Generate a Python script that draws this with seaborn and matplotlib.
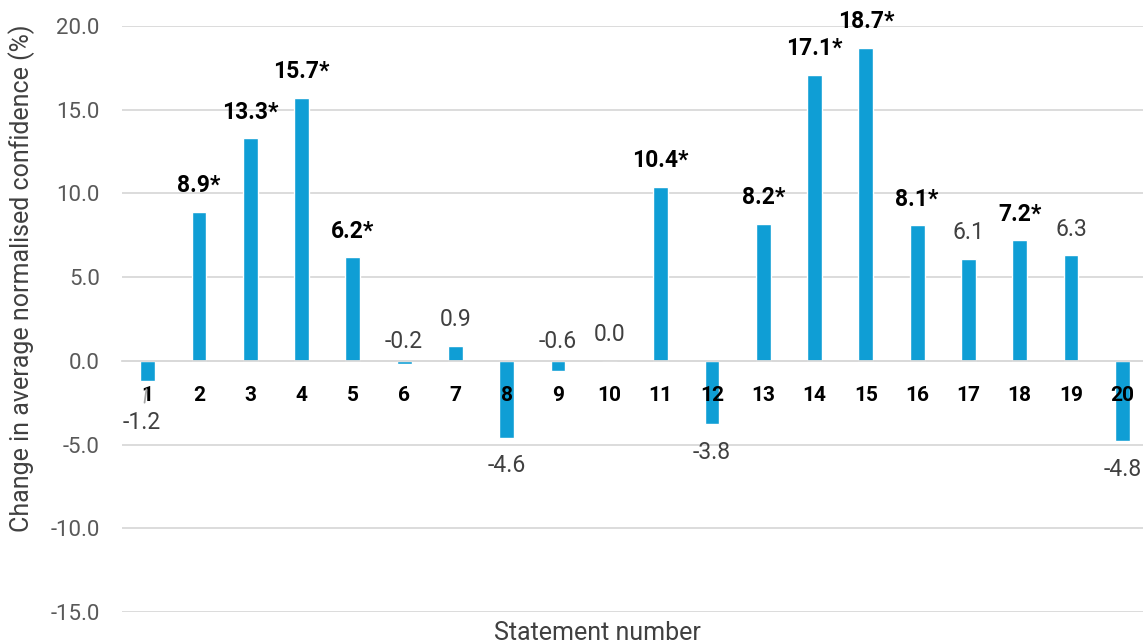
import matplotlib
matplotlib.use("Agg")
import matplotlib.pyplot as plt
import seaborn as sns
import pandas as pd

# data
statements = [str(i) for i in range(1, 21)]
changes = [-1.2, 8.9, 13.3, 15.7, 6.2, -0.2, 0.9, -4.6, -0.6, 0.0,
           10.4, -3.8, 8.2, 17.1, 18.7, 8.1, 6.1, 7.2, 6.3, -4.8]
significant = [False, True, True, True, True, False, False, False, False, False,
               True, False, True, True, True, True, False, True, False, False]
y_ticks = [-15, -10, -5, 0, 5, 10, 15, 20]

bar_color = "#0F9ED5"
grid_color = "#D9D9D9"

sns.set_theme(style="white")
plt.rcParams['font.family'] = ['Roboto', 'DejaVu Sans']

df = pd.DataFrame({"statement": statements, "change": changes})

fig = plt.figure(figsize=(11.43, 6.44), dpi=100)
ax = fig.add_axes([122 / 1143, 1 - 612 / 644, 1026 / 1143, 586 / 644])

# gridlines drawn by hand so tick labels can sit on top of the bars
for t in y_ticks:
    ax.axhline(t, color=grid_color, linewidth=1.3, zorder=0)

sns.barplot(data=df, x="statement", y="change", color=bar_color,
            saturation=1, width=0.29, ax=ax, zorder=2)

# spine position first: it resets the ticks
for side in ["top", "right", "left"]:
    ax.spines[side].set_visible(False)
ax.spines["bottom"].set_position(("data", 0))
ax.spines["bottom"].set_color(grid_color)
ax.spines["bottom"].set_linewidth(1.3)
ax.set_axisbelow(False)

ax.set_ylim(-15, 20)
ax.set_xlim(-0.5, len(statements) - 0.5)
ax.set_yticks(y_ticks)
ax.set_yticklabels([f"{t:.1f}" for t in y_ticks])
ax.set_xticks(range(len(statements)))
ax.set_xticklabels(statements, fontweight="bold")
ax.tick_params(axis="y", length=0, pad=16, labelsize=16, labelcolor="#595959")
ax.tick_params(axis="x", length=0, pad=18, labelsize=15, labelcolor="#000000")
ax.set_xlabel("")
ax.set_ylabel("")

# data labels
for i, (v, sig) in enumerate(zip(changes, significant)):
    text = f"{v:.1f}*" if sig else f"{v:.1f}"
    kw = dict(ha="center", va="center", fontsize=16.5,
              fontweight="bold" if sig else "normal",
              color="#000000" if sig else "#404040",
              textcoords="offset pixels", annotation_clip=False, zorder=5)
    if v >= 0:
        ax.annotate(text, xy=(i, v), xytext=(0, 26), **kw)
    elif v > -1:
        # small negatives: label moved above the axis
        ax.annotate(text, xy=(i, 0), xytext=(0, 19), **kw)
    elif v > -2:
        # label dragged down with a leader line
        ax.annotate(text, xy=(i, v), xytext=(-6, -42),
                    arrowprops=dict(arrowstyle="-", color="#A6A6A6", lw=1.3,
                                    shrinkA=4, shrinkB=6), **kw)
    else:
        ax.annotate(text, xy=(i, v), xytext=(0, -28), **kw)

fig.text(597 / 1143, 1 - 633 / 644, "Statement number", ha="center", va="center",
         fontsize=18, color="#404040")
fig.text(22 / 1143, 1 - 278 / 644, "Change in average normalised confidence (%)",
         ha="center", va="center", rotation=90, fontsize=18, color="#404040")

fig.savefig("out.png", dpi=100)
